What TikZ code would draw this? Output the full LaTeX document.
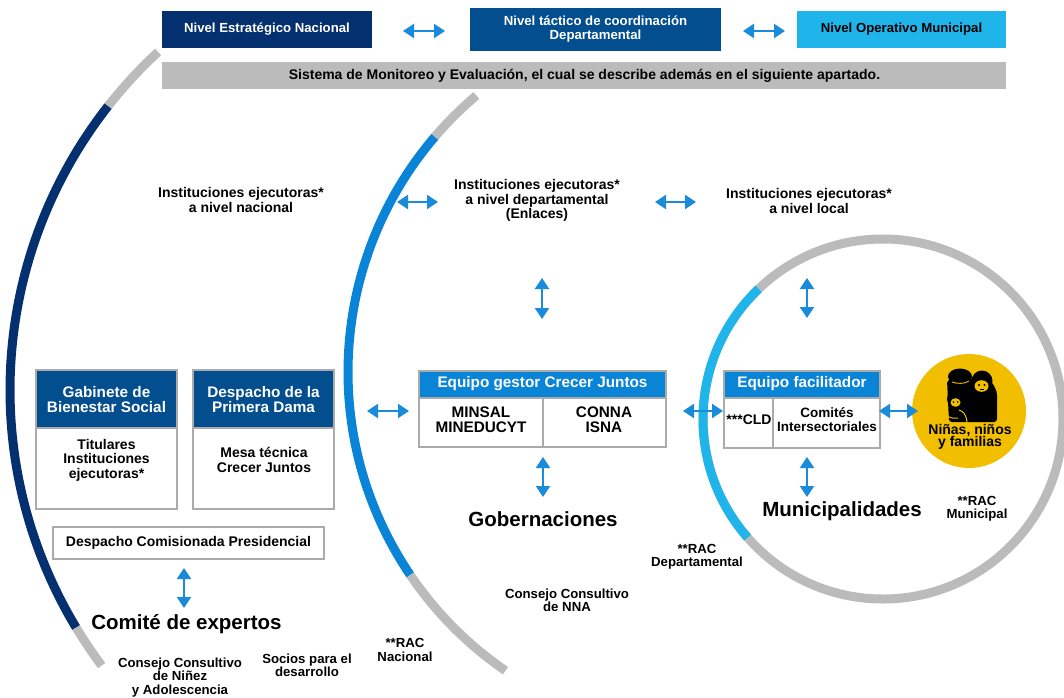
\documentclass[tikz,border=0pt]{standalone}
\usepackage{fontspec}
\setmainfont{Liberation Sans}
\usetikzlibrary{arrows.meta}
\definecolor{navy}{HTML}{05306F}
\definecolor{dblue}{HTML}{034E8E}
\definecolor{mblue}{HTML}{0A84D6}
\definecolor{lblue}{HTML}{1FB5EB}
\definecolor{arrblue}{HTML}{1A8ADB}
\definecolor{gbar}{HTML}{BBBBBB}
\definecolor{bgray}{HTML}{ABABAB}
\definecolor{yel}{HTML}{F2BE00}
\begin{document}
\begin{tikzpicture}[x=1pt,y=1pt,
  ttop/.style={font=\bfseries\fontsize{13.2}{14}\selectfont, align=center, inner sep=0pt},
  tmid/.style={font=\bfseries\fontsize{14}{14.5}\selectfont, align=center, inner sep=0pt},
  thdr/.style={font=\bfseries\fontsize{15.3}{15}\selectfont, align=center, inner sep=0pt, text=white},
  tcell/.style={font=\bfseries\fontsize{15.3}{15}\selectfont, align=center, inner sep=0pt},
  tbody/.style={font=\bfseries\fontsize{14}{14.5}\selectfont, align=center, inner sep=0pt},
  tsmall/.style={font=\bfseries\fontsize{13.2}{13.4}\selectfont, align=center, inner sep=0pt},
  tbig/.style={font=\bfseries\fontsize{20.5}{22}\selectfont, inner sep=0pt},
  topbox/.style={ttop, minimum height=37},
  hdrbox/.style={draw=bgray, line width=1.5pt, inner sep=0pt},
  bodybox/.style={draw=bgray, line width=1.5pt, fill=white, inner sep=0pt},
  dbl/.style={arrblue, line width=2pt, {Triangle[length=11pt,width=14pt]}-{Triangle[length=11pt,width=14pt]}},
  ring/.style={line width=9pt}
]
\fill[white] (0,0) rectangle (1064,-697);
\useasboundingbox (0,0) rectangle (1064,-697);

% ---------- arcs ----------
\coordinate (cL) at (470,-390);
\coordinate (cM) at (710,-372);
\coordinate (cR) at (883,-419);
\draw[ring, gbar] (cL) ++(132.7:460) arc[start angle=132.7, end angle=141.9, radius=460];
\draw[ring, navy] (cL) ++(141.9:460) arc[start angle=141.9, end angle=211.1, radius=460];
\draw[ring, gbar] (cL) ++(211.1:460) arc[start angle=211.1, end angle=216.8, radius=460];
\draw[ring, gbar] (cM) ++(130.2:362) arc[start angle=130.2, end angle=139.5, radius=362];
\draw[ring, mblue] (cM) ++(139.5:362) arc[start angle=139.5, end angle=214.1, radius=362];
\draw[ring, gbar] (cM) ++(214.1:362) arc[start angle=214.1, end angle=235.6, radius=362];
\draw[ring, gbar] (cR) circle[radius=180];
\draw[ring, lblue] (cR) ++(133.7:180) arc[start angle=133.7, end angle=221.2, radius=180];

% ---------- top level ----------
\node[topbox, fill=navy, text=white, minimum width=210] (nen) at (267,-29.5) {Nivel Estratégico Nacional};
\node[topbox, fill=dblue, text=white, minimum width=251, minimum height=43] (ntd) at (595.5,-29.5) {Nivel táctico de coordinación\\Departamental};
\node[topbox, fill=lblue, text=black, minimum width=209] (nom) at (901.5,-29.5) {Nivel Operativo Municipal};
\node[fill=gbar, minimum width=844, minimum height=27, inner sep=0pt] (sme) at (584,-75.5) {};
\node[font=\bfseries\fontsize{14}{14}\selectfont, inner sep=0pt] (smet) at (584.5,-75.5) {Sistema de Monitoreo y Evaluación, el cual se describe además en el siguiente apartado.};

% ---------- institutions ----------
\node[tmid] (ienac) at (241,-200) {Instituciones ejecutoras*\\a nivel nacional};
\node[tmid] (iedep) at (537,-200.5) {Instituciones ejecutoras*\\a nivel departamental\\(Enlaces)};
\node[tmid] (ieloc) at (809,-201) {Instituciones ejecutoras*\\a nivel local};

% ---------- left boxes ----------
\node[bodybox, minimum width=141, minimum height=139] (gabb) at (106.5,-439.5) {};
\node[hdrbox, fill=dblue, minimum width=141, minimum height=58] (gabh) at (106.5,-399) {};
\node[thdr] (gabt) at (106.5,-400) {Gabinete de\\Bienestar Social};
\node[tbody] (gabx) at (106.5,-460) {Titulares\\Instituciones\\ejecutoras*};

\node[bodybox, minimum width=141, minimum height=139] (pdb) at (263.5,-439.5) {};
\node[hdrbox, fill=dblue, minimum width=141, minimum height=58] (pdh) at (263.5,-399) {};
\node[thdr] (pdt) at (263.5,-400) {Despacho de la\\Primera Dama};
\node[tbody] (pdx) at (264,-460) {Mesa técnica\\Crecer Juntos};

\node[bodybox, minimum width=271, minimum height=32, tbody] (dcp) at (188.5,-543) {Despacho Comisionada Presidencial};
\node[tbig] (cde) at (186.5,-624) {Comité de expertos};

% ---------- centre box ----------
\node[bodybox, minimum width=247, minimum height=76] (egb) at (542.5,-409) {};
\node[hdrbox, fill=mblue, minimum width=247, minimum height=27] (egh) at (542.5,-384.5) {};
\node[thdr] (egt) at (542.5,-383.5) {Equipo gestor Crecer Juntos};
\draw[bgray, line width=1.5pt] (543,-398) -- (543,-447);
\node[tcell] (egl) at (481,-419.5) {MINSAL\\MINEDUCYT};
\node[tcell] (egr) at (604,-419.5) {CONNA\\ISNA};
\node[tbig] (gob) at (543,-519) {Gobernaciones};

% ---------- right box ----------
\node[bodybox, minimum width=156, minimum height=77] (efb) at (802,-409.5) {};
\node[hdrbox, fill=mblue, minimum width=156, minimum height=27] (efh) at (802,-384.5) {};
\node[thdr] (eft) at (802,-383.5) {Equipo facilitador};
\draw[bgray, line width=1.5pt] (773,-398) -- (773,-448);
\node[tbody] (cld) at (749,-420) {***CLD};
\node[font=\bfseries\fontsize{13.5}{14}\selectfont, align=center, inner sep=0pt] (cin) at (827,-420) {Comités\\Intersectoriales};
\node[tbig] (mun) at (842,-511) {Municipalidades};

% ---------- children circle ----------
\node[circle, fill=yel, minimum size=114, inner sep=0pt] (nnf) at (969,-411) {};
\begin{scope}
  % adults bodies
  \fill[black, rounded corners=3pt] (947,-380) -- (972,-378) -- (992,-382) -- (997,-392) -- (997,-422) -- (949,-422) -- cycle;
  % left adult head
  \fill[black] (960,-376.5) ellipse[x radius=12, y radius=8];
  \draw[yel, line width=0.9pt] (952,-382) .. controls (957,-384) and (965,-384) .. (969,-381);
  % right adult head and face
  \fill[black] (982,-381) circle[radius=10.5];
  \fill[yel] (981.5,-386) ellipse[x radius=7, y radius=5.8];
  \fill[black] (979,-385) circle[radius=1.1];
  \fill[black] (984.5,-385) circle[radius=1.1];
  \draw[black, line width=0.9pt] (979.5,-389) -- (984,-389);
  % child
  \fill[black] (955,-399) circle[radius=8];
  \fill[yel] (955.5,-402.5) ellipse[x radius=5, y radius=4.3];
  \fill[black] (953.5,-402) circle[radius=0.9];
  \fill[black] (957.8,-402) circle[radius=0.9];
  \draw[yel, line width=1pt] (947,-409) .. controls (945,-417) and (950,-419) .. (958,-418);
  \draw[yel, line width=1pt] (959,-410) .. controls (963,-411) and (966,-414) .. (967,-422);
\end{scope}
\node[font=\bfseries\fontsize{14}{12.5}\selectfont, align=center, inner sep=0pt] (nnft) at (970,-437) {Niñas, niños\\y familias};

% ---------- small labels ----------
\node[tsmall] (racd) at (697,-557) {**RAC\\Departamental};
\node[tsmall] (racm) at (977,-508.5) {**RAC\\Municipal};
\node[tsmall] (ccn) at (567,-600) {Consejo Consultivo\\de NNA};
\node[tsmall] (racn) at (405,-650) {**RAC\\Nacional};
\node[tsmall] (spd) at (307,-665.5) {Socios para el\\desarrollo};
\node[tsmall] (ccna) at (180,-677.5) {Consejo Consultivo\\de Niñez\\y Adolescencia};

% ---------- arrows ----------
\coordinate (a1s) at (403,-31);  \coordinate (a1e) at (445,-31);
\coordinate (a2s) at (743,-31);  \coordinate (a2e) at (785,-31);
\coordinate (a3s) at (397,-202); \coordinate (a3e) at (438,-202);
\coordinate (a4s) at (655,-202); \coordinate (a4e) at (696,-202);
\coordinate (a5s) at (542,-278); \coordinate (a5e) at (542,-319);
\coordinate (a6s) at (807,-278); \coordinate (a6e) at (807,-318);
\coordinate (a7s) at (367,-411); \coordinate (a7e) at (409,-411);
\coordinate (a8s) at (683,-411); \coordinate (a8e) at (723,-411);
\coordinate (a9s) at (879,-411); \coordinate (a9e) at (918,-411);
\coordinate (a10s) at (543,-457); \coordinate (a10e) at (543,-497);
\coordinate (a11s) at (807,-457); \coordinate (a11e) at (807,-497);
\coordinate (a12s) at (184,-568); \coordinate (a12e) at (184,-608);
\foreach \i in {1,...,12} { \draw[dbl] (a\i s) -- (a\i e); }
\end{tikzpicture}
\end{document}
